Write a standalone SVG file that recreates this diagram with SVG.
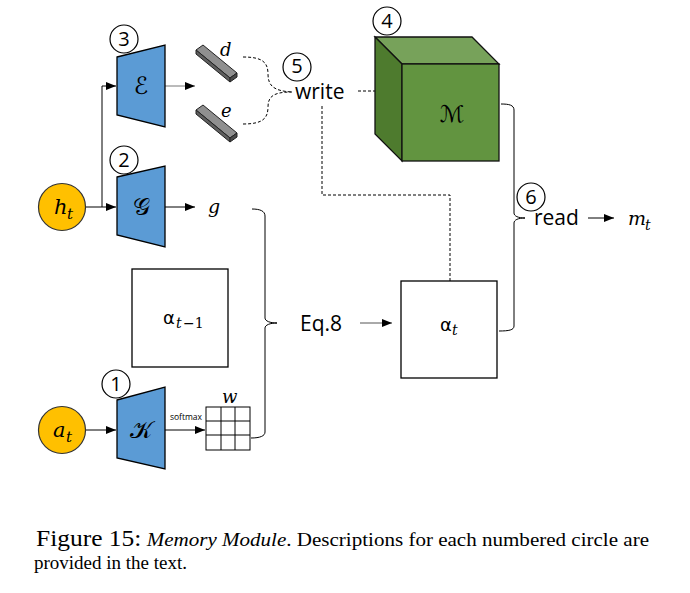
<svg xmlns="http://www.w3.org/2000/svg" width="690" height="593" viewBox="0 0 690 593">
<defs>
<style>
.num{fill:#fff;stroke:#000;stroke-width:1.2}
.numt{font-family:"Open Sans","DejaVu Sans",sans-serif;font-size:20px;text-anchor:middle;fill:#000}
.enc{fill:#5B9BD5;stroke:#000;stroke-width:1.3}
.inp{fill:#FFC000;stroke:#333;stroke-width:1.2}
.math{font-family:"DejaVu Serif","Liberation Serif",serif;font-style:italic;fill:#000}
.cal{font-family:"DejaVu Sans","Noto Sans",serif;fill:#000;text-anchor:middle}
.lbl{font-family:"Open Sans","Noto Sans",sans-serif;font-size:21px;fill:#000}
.box{fill:#fff;stroke:#000;stroke-width:1.3}
.line{fill:none;stroke:#000;stroke-width:1}
.dash{fill:none;stroke:#000;stroke-width:1;stroke-dasharray:3,2}
.cap{font-family:"Liberation Serif","Times New Roman",serif;font-size:19px;fill:#000}
.bar{stroke:#222;stroke-width:1}
</style>
<marker id="arr" viewBox="0 0 10 10" refX="10" refY="5" markerWidth="10" markerHeight="10" markerUnits="userSpaceOnUse" orient="auto">
<path d="M0,1 L10,5 L0,9 Z" fill="#000"/>
</marker>
</defs>

<g id="connectors">
<path class="line" d="M86,207 L116,207" marker-end="url(#arr)"/>
<path class="line" d="M102,207 L102,86 L116,86" marker-end="url(#arr)"/>
<path class="line" d="M165,86 L195,86" marker-end="url(#arr)" style="stroke:#777"/>
<path class="line" d="M165,207 L195,207" marker-end="url(#arr)"/>
<path class="line" d="M86,430 L116,430" marker-end="url(#arr)"/>
<path class="line" d="M165,430 L205,430" marker-end="url(#arr)"/>
<path class="line" d="M360,323 L392,323" marker-end="url(#arr)" style="stroke:#555"/>
<path class="line" d="M588,218 L614,218" marker-end="url(#arr)"/>
<path class="dash" d="M243,57 C262,57 268,62 268,74 C268,86 274,91 292,92"/>
<path class="dash" d="M243,124 C262,124 268,119 268,107 C268,96 274,92 292,92"/>
<path class="dash" d="M358,91 L375,91"/>
<path class="dash" d="M322,106 L322,195 L450,195 L450,281"/>
<path class="line" d="M252,209 C260,209 265,211 265,216 L265,318 C265,321 270,323 277,323 C270,323 265,325 265,328 L265,432 C265,436 260,438 251,438"/>
<path class="line" d="M501,104 C509,104 514,105 514,110 L514,213 C514,216 518,218 525,218 C518,218 514,220 514,223 L514,326 C514,330 509,331 499,331"/>
</g>

<g id="node-ht">
<circle class="inp" cx="62" cy="207" r="23.5"/>
<text class="math" x="54" y="214" font-size="21">h</text><text class="math" x="67" y="219" font-size="15">t</text>
</g>
<g id="node-at">
<circle class="inp" cx="62" cy="430" r="23.5"/>
<text class="math" x="53" y="437" font-size="21">a</text><text class="math" x="66" y="442" font-size="15">t</text>
</g>

<g id="node-E">
<polygon class="enc" points="117,57 165,45 165,127 117,115"/>
<text class="cal" x="141" y="94" font-size="24">ℰ</text>
<circle class="num" cx="124" cy="39" r="14"/>
<text class="numt" x="124" y="46">3</text>
</g>
<g id="node-G">
<polygon class="enc" points="117,177 165,166 165,247 117,235"/>
<text class="cal" x="141" y="215" font-size="24">𝒢</text>
<circle class="num" cx="124" cy="160" r="14"/>
<text class="numt" x="124" y="167">2</text>
</g>
<g id="node-K">
<polygon class="enc" points="117,400 165,387 165,469 117,458"/>
<text class="cal" x="141" y="438" font-size="24">𝒦</text>
<circle class="num" cx="116" cy="384" r="14"/>
<text class="numt" x="116" y="391">1</text>
<text x="186" y="420" font-family="Open Sans,DejaVu Sans,sans-serif" font-size="8.5" text-anchor="middle">softmax</text>
</g>

<g id="node-d">
<polygon class="bar" points="196,50 203,45 237,73 230,78" fill="#8f8f8f"/>
<polygon class="bar" points="196,50 230,78 230,82 196,54" fill="#5e5e5e"/>
<polygon class="bar" points="230,78 237,73 237,77 230,82" fill="#4a4a4a"/>
<text class="math" x="220" y="56" font-size="18">d</text>
</g>
<g id="node-e">
<polygon class="bar" points="196,110 203,105 237,133 230,138" fill="#8f8f8f"/>
<polygon class="bar" points="196,110 230,138 230,142 196,114" fill="#5e5e5e"/>
<polygon class="bar" points="230,138 237,133 237,137 230,142" fill="#4a4a4a"/>
<text class="math" x="221" y="117" font-size="18">e</text>
</g>
<g id="node-g">
<text class="math" x="208" y="213" font-size="19">g</text>
</g>

<g id="node-write">
<circle class="num" cx="297" cy="67" r="14"/>
<text class="numt" x="297" y="73" font-size="19">5</text>
<text class="lbl" x="295" y="99">write</text>
</g>

<g id="node-M">
<polygon points="375,37 472,37 499,64 402,64" fill="#77A25A" stroke="#111" stroke-width="1.3"/>
<polygon points="375,37 402,64 402,161 375,134" fill="#4E7B2E" stroke="#111" stroke-width="1.3"/>
<rect x="402" y="64" width="97" height="97" fill="#629440" stroke="#111" stroke-width="1.3"/>
<text class="cal" x="452" y="122" font-size="23">ℳ</text>
<circle class="num" cx="387" cy="21" r="14"/>
<text class="numt" x="387" y="28">4</text>
</g>

<g id="node-read">
<circle class="num" cx="531" cy="197" r="14"/>
<text class="numt" x="531" y="204">6</text>
<text class="lbl" x="534" y="225">read</text>
<text class="math" x="628" y="225" font-size="19">m</text><text class="math" x="645" y="230" font-size="14">t</text>
</g>

<g id="node-alpha-prev">
<rect class="box" x="132" y="269" width="96" height="98"/>
<text x="163" y="324" font-family="DejaVu Sans,sans-serif" font-size="18">α</text>
<text class="math" x="176" y="328" font-size="14">t</text>
<text x="183" y="328" font-family="DejaVu Serif,serif" font-size="14">−1</text>
</g>

<g id="node-eq8">
<text class="lbl" x="300" y="331">Eq.8</text>
</g>

<g id="node-alpha-t">
<rect class="box" x="401" y="281" width="96" height="97"/>
<text x="440" y="331" font-family="DejaVu Sans,sans-serif" font-size="18">α</text>
<text class="math" x="452" y="335" font-size="14">t</text>
</g>

<g id="node-w">
<rect x="206" y="407" width="44" height="43" fill="#fff" stroke="#000" stroke-width="1"/>
<path class="line" d="M221,407 V450 M235,407 V450 M206,421 H250 M206,435 H250"/>
<text class="math" x="222" y="403" font-size="18">w</text>
</g>

<g id="caption">
<text class="cap" x="36" y="546" textLength="613" lengthAdjust="spacingAndGlyphs"><tspan font-size="23">Figure 15:</tspan> <tspan font-style="italic">Memory Module</tspan>. Descriptions for each numbered circle are</text>
<text class="cap" x="34" y="569">provided in the text.</text>
</g>
</svg>
